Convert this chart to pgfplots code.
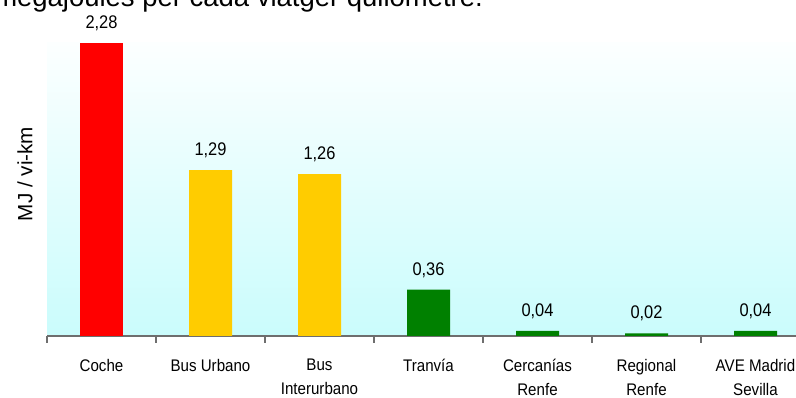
\documentclass[border=0pt]{standalone}
\usepackage{fontspec}
\setmainfont{Liberation Sans}[FakeStretch=0.9]
\newfontfamily\titlefont{Liberation Sans}
\usepackage{pgfplots}
\pgfplotsset{compat=1.18}
\definecolor{barred}{HTML}{FF0000}
\definecolor{baryellow}{HTML}{FFCC00}
\definecolor{bargreen}{HTML}{008000}
\definecolor{bgtop}{RGB}{252,255,255}
\definecolor{bgbot}{RGB}{202,252,252}
\definecolor{axisgray}{RGB}{110,110,110}
\begin{document}
\begin{tikzpicture}
\path[use as bounding box] (0,0) rectangle (597pt,298.5pt);
\begin{axis}[
  at={(35.25pt,46.5pt)}, anchor=south west,
  scale only axis, width=572.25pt, height=219.75pt,
  xmin=-0.5, xmax=6.5, ymin=0, ymax=2.28,
  axis y line*=left, y axis line style={draw=none}, ytick=\empty,
  axis x line*=bottom,
  x axis line style={axisgray, line width=1pt, -},
  xtick={0,...,6},
  xticklabels={Coche, Bus Urbano, {Bus\\Interurbano}, Tranvía, {Cercanías\\Renfe}, {Regional\\Renfe}, {AVE Madrid\\Sevilla}},
  major tick length=0pt,
  minor xtick={-0.5,0.5,...,6.5}, minor tick length=5.25pt, tick align=outside,
  every minor tick/.style={axisgray, line width=0.9pt},
  xticklabel style={font=\fontsize{12.6}{18}\selectfont, align=center, yshift=-14pt},
  ylabel={MJ / vi-km},
  ylabel style={at={(axis description cs:-0.029,0.553)}, anchor=center, rotate=0, font=\titlefont\fontsize{15.5}{18}\selectfont},
  axis background/.style={shade, top color=bgtop, bottom color=bgbot},
  ybar,
  nodes near coords,
  every node near coord/.append style={font=\fontsize{13.7}{18}\selectfont, text=black, anchor=base, yshift=11pt},
  /pgf/number format/.cd, use comma, fixed, fixed zerofill, precision=2, assume math mode=true,
]
\addplot[ybar, bar shift=0pt, bar width=32.25pt, fill=barred, draw=none] coordinates {(0,2.28)};
\addplot[ybar, bar shift=0pt, bar width=32.25pt, fill=baryellow, draw=none] coordinates {(1,1.29) (2,1.26)};
\addplot[ybar, bar shift=0pt, bar width=32.25pt, fill=bargreen, draw=none] coordinates {(3,0.36) (4,0.04) (5,0.02) (6,0.04)};
\end{axis}
\node[anchor=base west, inner sep=0pt, font=\titlefont\fontsize{20.6}{24}\selectfont] at (-4.5pt,293.25pt) {megajoules per cada viatger quilòmetre.};
\end{tikzpicture}
\end{document}
